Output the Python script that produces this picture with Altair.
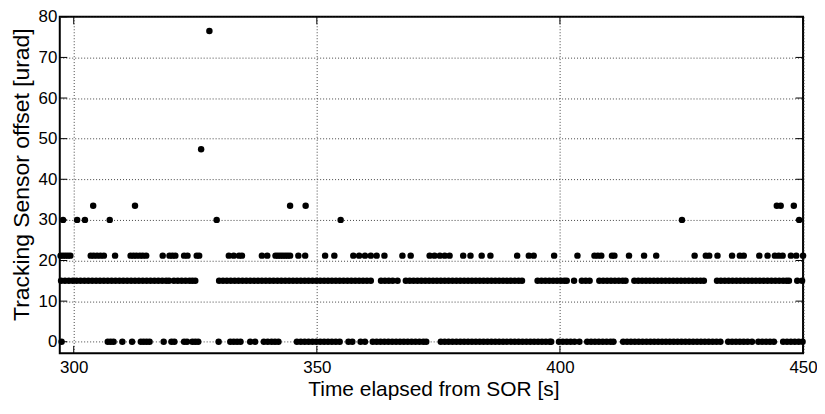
import altair as alt
import pandas as pd

# ---- data (time [s] of each dot, per offset level) ----
t_lvl0 = [297.5,
          307.0, 307.6, 308.2, 310.0, 312.0, 313.8, 314.4, 315.0, 315.6, 318.5, 320.1, 320.7,
          322.7, 323.3, 324.4, 325.0, 325.6, 329.8,
          332.2, 332.9, 333.6, 334.3, 336.3, 337.3, 339.1, 339.9, 340.7, 341.4, 342.1,
          345.9, 346.7, 347.5, 348.3, 349.1, 349.9, 350.7, 351.5, 352.3, 353.1, 353.9, 354.7,
          356.5, 357.3, 359.0, 359.9,
          361.5, 362.3, 363.1, 363.9, 364.7, 365.5, 366.3, 367.1, 367.9, 368.7, 369.5, 370.3,
          371.1, 371.9, 372.5,
          375.5, 376.3, 377.1, 377.9, 378.7, 379.5, 380.3, 381.1, 381.9, 382.7, 383.5, 384.3,
          385.1, 385.9, 386.7, 387.5, 388.3, 389.1, 389.9, 390.7, 391.5, 392.3, 393.1, 393.9,
          394.7, 395.5, 396.3, 397.1, 397.9, 398.2,
          399.8, 400.6, 401.4, 402.2, 403.0, 404.0,
          405.6, 406.4, 407.2, 408.0, 408.8, 409.6, 410.4, 411.0,
          413.0, 413.8, 414.6, 415.4, 416.2, 417.0, 417.8, 418.6, 419.4, 420.2, 421.0, 421.8,
          422.6, 423.4, 424.2, 425.0, 425.8, 426.6, 427.4, 428.2, 429.0, 429.8, 430.6, 431.4,
          432.2, 433.0,
          434.6, 435.4, 436.2, 437.0, 437.8, 438.6, 439.5,
          440.8, 441.6, 442.4, 443.2, 444.0,
          445.9, 446.7, 447.5, 448.3, 449.1, 449.9]

t_lvl15 = [297.4, 298.2, 299.0, 299.8, 300.6, 301.4, 302.2, 303.0, 303.8, 304.6, 305.4, 306.2,
           307.0, 307.8, 308.6, 309.4, 310.2, 311.0, 311.8, 312.6, 313.4, 314.2, 315.0, 315.8,
           316.6, 317.4, 318.2, 319.0, 319.6, 320.6, 321.4, 322.2, 323.0, 323.8, 324.4, 325.0,
           329.9, 330.7, 331.5, 332.3, 333.1, 333.9, 334.7, 335.5, 336.3, 337.1, 337.9, 338.7,
           339.5, 340.3, 341.1, 341.9, 342.7, 343.5, 344.3, 345.1, 345.9, 346.7, 347.5, 348.3,
           349.1, 349.9, 350.7, 351.5, 352.3, 353.1, 353.9, 354.7, 355.5, 356.3, 357.1, 357.9,
           358.7, 359.5, 360.3, 361.1,
           363.2, 364.0, 364.8, 365.6, 366.6,
           368.3, 369.1, 369.9, 370.7, 371.5, 372.3, 373.1, 373.9, 374.7, 375.5, 376.3, 377.1,
           377.9, 378.7, 379.5, 380.3, 381.1, 381.9, 382.7, 383.5, 384.3, 385.1, 385.9, 386.7,
           387.5, 388.3, 389.1, 389.9, 390.7, 391.5, 392.2,
           395.4, 396.2, 397.0, 397.8, 398.6, 399.4, 400.2, 400.9, 401.4,
           402.9,
           404.5, 405.3, 406.1,
           408.1, 408.9, 409.7, 410.5, 411.3, 412.1, 412.9, 413.5,
           415.3, 416.1, 416.9, 417.7, 418.5, 419.3, 420.1, 420.9, 421.7, 422.5, 423.3, 424.1,
           424.9, 425.7, 426.5, 427.3, 428.1, 428.9, 429.6,
           432.3, 433.1, 433.9, 434.7, 435.5, 436.3, 437.1, 437.9, 438.7, 439.5, 440.3, 441.1,
           441.9, 442.7, 443.5, 444.3, 445.1, 445.9, 446.6, 447.1,
           448.8, 449.8]

t_lvl21 = [297.3, 297.8, 298.3, 298.8, 299.3,
           303.5, 304.1, 304.8, 305.5, 306.2, 308.5,
           311.7, 312.3, 312.9, 313.6, 314.2, 314.9,
           318.3, 319.7, 320.3, 320.9, 322.7, 323.4, 325.3, 325.8,
           331.9, 332.9, 334.0, 334.6,
           338.7, 339.8, 341.5, 342.0, 342.5, 343.0, 343.5, 344.0, 344.5, 346.2, 347.6,
           351.7, 353.6,
           357.5, 358.7, 359.9, 361.1, 362.3, 363.9, 367.6, 369.3,
           373.2, 374.2, 375.3, 376.3, 377.3,
           380.1, 381.6, 383.9, 385.7, 391.2, 393.6, 394.6, 398.8, 403.6,
           407.1, 407.8, 408.5, 410.7, 411.2, 414.2, 417.3, 419.8,
           427.7, 430.0, 430.7, 432.4, 435.4, 437.0, 437.8, 441.0, 442.7,
           444.2, 445.0, 445.8, 447.5, 448.6, 450.0]

t_lvl30 = [297.8, 300.7, 302.3, 307.4, 329.4, 354.9, 425.1, 449.2]
t_lvl33 = [304.0, 312.6, 344.5, 347.7, 444.6, 445.4, 448.1]
t_lvl47 = [326.2]
t_lvl76 = [327.9]

level_values = [0.0, 15.0, 21.2, 30.0, 33.5, 47.4, 76.5]
level_times = [t_lvl0, t_lvl15, t_lvl21, t_lvl30, t_lvl33, t_lvl47, t_lvl76]

x_ticks = [300, 350, 400, 450]
y_ticks = [0, 10, 20, 30, 40, 50, 60, 70, 80]
x_domain = [297.13, 450]
y_domain = [-2.86, 80]

# ---- build tables ----
rows = [{"t": t, "v": v} for v, ts in zip(level_values, level_times) for t in ts]
df = pd.DataFrame(rows)
xt_df = pd.DataFrame({"t": x_ticks})
yt_df = pd.DataFrame({"v": y_ticks})

W, H = 746.5, 338
TICK = 7.5
FONT = "Liberation Sans"

xs = alt.Scale(domain=x_domain, nice=False, zero=False)
ys = alt.Scale(domain=y_domain, nice=False, zero=False)

x_axis = alt.Axis(values=x_ticks, title="Time elapsed from SOR [s]", grid=True,
                  gridDash=[1, 2], gridColor="#444444", gridWidth=1,
                  tickSize=0, domain=False, labelPadding=6, labelFontSize=17,
                  labelFont=FONT, labelColor="black", labelBaseline="top",
                  labelFlush=False, labelOverlap=False,
                  titleFont=FONT, titleFontSize=21, titleFontWeight="normal",
                  titleColor="black", titleX=W / 2 + 2, titleY=42,
                  titleBaseline="alphabetic", titleAlign="center")
y_axis = alt.Axis(values=y_ticks, title="Tracking Sensor offset [urad]", grid=True,
                  gridDash=[1, 2], gridColor="#444444", gridWidth=1,
                  tickSize=0, domain=False, labelPadding=3, labelFontSize=17,
                  labelFont=FONT, labelColor="black", labelBaseline="middle",
                  labelFlush=False, labelOverlap=False,
                  titleFont=FONT, titleFontSize=23, titleFontWeight="normal",
                  titleColor="black", titleX=-38, titleY=158,
                  titleBaseline="middle", titleAlign="center", titleAngle=270)

X = alt.X("t:Q", scale=xs, axis=x_axis)
Y = alt.Y("v:Q", scale=ys, axis=y_axis)

points = alt.Chart(df).mark_circle(size=42, color="black", opacity=1).encode(x=X, y=Y)

bottom_ticks = alt.Chart(xt_df).mark_rule(color="black", strokeWidth=1).encode(
    x=X, y=alt.value(H), y2=alt.value(H - TICK))
top_ticks = alt.Chart(xt_df).mark_rule(color="black", strokeWidth=1).encode(
    x=X, y=alt.value(0), y2=alt.value(TICK))
left_ticks = alt.Chart(yt_df).mark_rule(color="black", strokeWidth=1).encode(
    y=Y, x=alt.value(0), x2=alt.value(TICK))
right_ticks = alt.Chart(yt_df).mark_rule(color="black", strokeWidth=1).encode(
    y=Y, x=alt.value(W - TICK), x2=alt.value(W))

chart = alt.layer(points, bottom_ticks, top_ticks, left_ticks, right_ticks).properties(
    width=W, height=H, autosize="none",
    padding={"left": 52, "top": 8, "right": 14, "bottom": 48},
    background="white",
).configure_view(stroke="black", strokeWidth=2)

chart.save("out.html", embed_options={"renderer": "svg", "actions": False})
